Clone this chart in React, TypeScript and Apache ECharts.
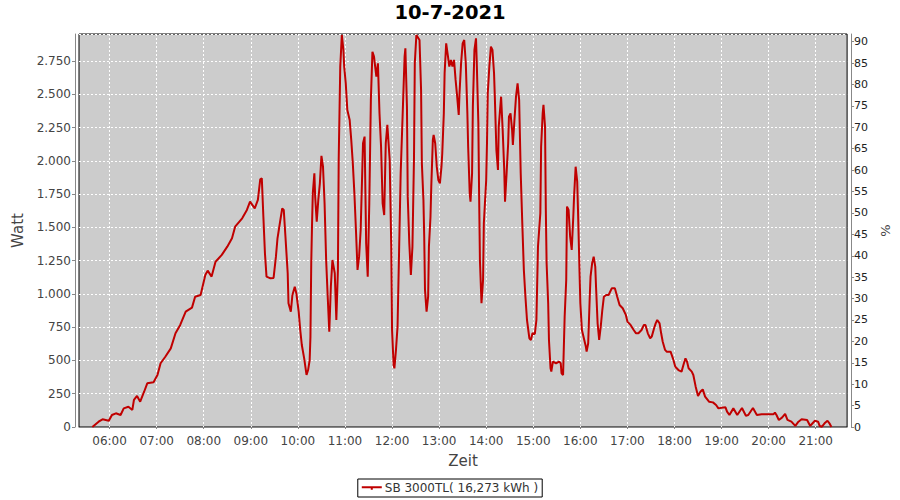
import React, { useEffect, useRef } from 'react';
import * as echarts from 'echarts';

const TITLE = '10-7-2021';
const SERIES_NAME = 'SB 3000TL( 16,273 kWh )';
const X_NAME = 'Zeit';
const Y_NAME = 'Watt';
const Y2_NAME = '%';

// minutes since midnight
const TIME_MIN = 321;
const TIME_MAX = 1300;
const HOUR_TICKS = [360, 420, 480, 540, 600, 660, 720, 780, 840, 900, 960, 1020, 1080, 1140, 1200, 1260];

const WATT_MAX = 2953;
const WATT_STEP = 250;
const PCT_MAX = 91.8;
const PCT_STEP = 5;

const times = [
  338, 346, 351, 359, 363, 368, 374, 378, 384, 389,
  391, 395, 399, 404, 408, 416, 421, 425, 431, 438,
  444, 450, 457, 465, 469, 476, 482, 485, 490, 495,
  503, 510, 516, 520, 529, 535, 539, 545, 549, 552,
  554, 556, 558, 560, 565, 569, 572, 574, 577, 580,
  582, 584, 587, 588, 591, 593, 596, 598, 601, 603,
  605, 608, 611, 613, 615, 616, 617, 618, 619, 621,
  622, 624, 626, 628, 630, 632, 634, 636, 638, 640,
  642, 644, 647, 649, 651, 652, 654, 656, 658, 659,
  661, 663, 666, 668, 670, 672, 674, 676, 678, 680,
  683, 685, 687, 689, 691, 693, 695, 697, 700, 702,
  704, 706, 708, 710, 712, 714, 717, 719, 720, 722,
  723, 725, 727, 729, 731, 734, 736, 737, 739, 740,
  742, 744, 746, 748, 749, 751, 755, 757, 758, 760,
  761, 762, 764, 766, 767, 769, 770, 771, 772, 773,
  775, 777, 779, 781, 783, 784, 786, 787, 789, 791,
  793, 795, 797, 799, 801, 803, 805, 806, 808, 810,
  812, 814, 816, 817, 819, 820, 822, 823, 825, 827,
  828, 830, 831, 832, 834, 836, 837, 840, 841, 842,
  844, 846, 848, 850, 851, 853, 855, 856, 859, 861,
  863, 864, 866, 868, 869, 871, 873, 874, 876, 878,
  880, 882, 884, 886, 888, 890, 892, 895, 897, 899,
  902, 904, 906, 909, 910, 912, 913, 915, 916, 917,
  919, 920, 922, 923, 925, 929, 933, 935, 936, 938,
  940, 942, 943, 945, 947, 949, 951, 952, 954, 956,
  957, 959, 960, 962, 965, 967, 968, 970, 972, 973,
  975, 977, 979, 980, 982, 984, 986, 988, 990, 993,
  996, 1000, 1004, 1007, 1010, 1014, 1018, 1020, 1024, 1028,
  1031, 1034, 1038, 1041, 1043, 1046, 1049, 1051, 1054, 1056,
  1058, 1061, 1063, 1065, 1068, 1070, 1075, 1078, 1081, 1085,
  1089, 1092, 1094, 1096, 1098, 1102, 1104, 1107, 1110, 1113,
  1116, 1119, 1124, 1129, 1133, 1136, 1140, 1145, 1147, 1150,
  1155, 1160, 1166, 1171, 1174, 1180, 1185, 1191, 1200, 1206,
  1208, 1210, 1213, 1217, 1221, 1224, 1229, 1234, 1238, 1242,
  1249, 1253, 1256, 1259, 1263, 1265, 1268, 1272, 1275, 1278,
  1280,
];

const watts = [
  0, 40, 58, 47, 90, 103, 90, 140, 152, 128,
  203, 233, 190, 265, 328, 336, 391, 479, 528, 591,
  704, 767, 867, 897, 979, 992, 1142, 1175, 1130, 1242,
  1293, 1355, 1418, 1505, 1568, 1631, 1693, 1643, 1706, 1861,
  1869, 1580, 1305, 1130, 1117, 1120, 1280, 1418, 1531, 1643,
  1631, 1443, 1155, 930, 867, 992, 1054, 1005, 867, 729,
  616, 516, 391, 428, 503, 679, 1230, 1518, 1756, 1906,
  1731, 1543, 1706, 1831, 2037, 1956, 1681, 1255, 979, 716,
  1054, 1255, 1155, 804, 1180, 2006, 2708, 2946, 2833, 2708,
  2583, 2382, 2307, 2157, 1981, 1756, 1480, 1180, 1280, 1480,
  2132, 2182, 1380, 1130, 1681, 2457, 2820, 2783, 2632, 2733,
  2357, 2106, 1681, 1593, 2132, 2270, 2006, 1355, 729, 466,
  441, 579, 754, 1330, 1906, 2432, 2783, 2846, 2407, 1731,
  1380, 1142, 1355, 2031, 2733, 2946, 2908, 2532, 1981, 1706,
  1430, 1030, 867, 979, 1355, 1580, 1806, 1981, 2157, 2194,
  2132, 1956, 1856, 1831, 1956, 2057, 2357, 2658, 2883, 2796,
  2708, 2758, 2708, 2758, 2608, 2482, 2345, 2508, 2733, 2883,
  2908, 2733, 2357, 2106, 1756, 1693, 1906, 2407, 2833, 2921,
  2733, 2282, 1731, 1255, 930, 1105, 1531, 1856, 2132, 2508,
  2708, 2858, 2833, 2658, 2482, 2081, 1931, 2257, 2482, 2232,
  1931, 1693, 1906, 2132, 2332, 2357, 2232, 2119, 2307, 2482,
  2583, 2457, 1906, 1531, 1180, 979, 804, 667, 654, 704,
  699, 804, 1355, 1606, 2106, 2357, 2420, 2257, 1631, 1230,
  930, 654, 441, 416, 491, 479, 491, 479, 404, 391,
  829, 1105, 1656, 1631, 1430, 1330, 1580, 1731, 1956, 1843,
  1631, 1155, 930, 729, 654, 604, 566, 629, 979, 1130,
  1230, 1280, 1205, 1054, 779, 654, 754, 879, 979, 992,
  992, 1042, 1042, 979, 917, 892, 842, 792, 767, 729,
  704, 704, 729, 767, 767, 704, 667, 679, 742, 779,
  804, 779, 704, 641, 579, 566, 566, 516, 453, 428,
  416, 479, 516, 491, 441, 416, 391, 303, 233, 265,
  283, 228, 190, 185, 165, 140, 145, 148, 115, 90,
  140, 90, 143, 85, 90, 143, 90, 95, 95, 95,
  108, 90, 53, 70, 98, 53, 40, 8, 40, 58,
  53, 8, 28, 47, 40, 8, 2, 32, 47, 23,
  0,
];

const FONT = '"DejaVu Sans", Verdana, sans-serif';
const LINE_COLOR = '#C00000';
const AXIS_COLOR = '#888888';
const LABEL_COLOR = '#444444';
const LEGEND_ICON = 'path://M0,4L20,4L20,6L0,6Z M9,6L11,6L11,7.5L9,7.5Z';

const pad2 = (n: number) => (n < 10 ? '0' + n : String(n));
const fmtTime = (m: number) => pad2(Math.floor(m / 60)) + ':' + pad2(Math.round(m % 60));
const fmtWatt = (v: number) => {
  if (Math.abs(v % WATT_STEP) > 1e-6) return '';
  if (v >= 1000) {
    const th = Math.floor(v / 1000);
    const rest = Math.round(v % 1000);
    return th + '.' + String(rest).padStart(3, '0');
  }
  return String(v);
};
const fmtPct = (v: number) => (Math.abs(v % PCT_STEP) > 1e-6 ? '' : String(v));

export default function App() {
  const ref = useRef<HTMLDivElement>(null);

  useEffect(() => {
    if (!ref.current) return;
    const chart = echarts.init(ref.current, null, { renderer: 'svg' });
    const data = times.map((t, i) => [t, watts[i]]);

    chart.setOption({
      animation: false,
      backgroundColor: '#ffffff',
      title: {
        text: TITLE,
        left: 'center',
        top: 2,
        padding: 0,
        textStyle: { fontFamily: FONT, fontWeight: 'bold', fontSize: 19.5, color: '#000' },
      },
      legend: {
        bottom: 3,
        left: 'center',
        borderColor: '#000',
        borderWidth: 1,
        padding: [3, 4],
        itemWidth: 20,
        itemHeight: 10,
        itemGap: 4,
        textStyle: { fontFamily: FONT, fontSize: 12, color: '#333', padding: [0, 0, 0, -2] },
        data: [{ name: SERIES_NAME, icon: LEGEND_ICON, itemStyle: { color: LINE_COLOR } }],
      },
      grid: {
        left: 79,
        right: 51,
        top: 34,
        bottom: 73,
        show: true,
        backgroundColor: '#CCCCCC',
        borderColor: '#000',
        borderWidth: 1,
      },
      xAxis: {
        type: 'value',
        min: TIME_MIN,
        max: TIME_MAX,
        offset: 4,
        name: X_NAME,
        nameLocation: 'middle',
        nameGap: 22,
        nameTextStyle: { fontFamily: FONT, fontSize: 15, color: LABEL_COLOR },
        axisLine: { show: true, lineStyle: { color: AXIS_COLOR, width: 1 } },
        axisTick: { show: true, length: 2, customValues: HOUR_TICKS, lineStyle: { color: AXIS_COLOR } },
        axisLabel: {
          customValues: HOUR_TICKS,
          formatter: fmtTime,
          fontFamily: FONT,
          fontSize: 12,
          color: LABEL_COLOR,
          margin: 4,
        },
        splitLine: { show: true, lineStyle: { color: '#ffffff', width: 1, type: [2, 2] } },
      },
      yAxis: [
        {
          type: 'value',
          min: 0,
          max: WATT_MAX,
          interval: WATT_STEP,
          position: 'left',
          offset: 4,
          name: Y_NAME,
          nameLocation: 'middle',
          nameGap: 48,
          nameTextStyle: { fontFamily: FONT, fontSize: 15, color: LABEL_COLOR },
          axisLine: { show: true, lineStyle: { color: AXIS_COLOR, width: 1 } },
          axisTick: { show: true, length: 3, lineStyle: { color: AXIS_COLOR } },
          axisLabel: {
            formatter: fmtWatt,
            showMaxLabel: false,
            fontFamily: FONT,
            fontSize: 12,
            color: LABEL_COLOR,
            margin: 4,
          },
          splitLine: { show: true, lineStyle: { color: '#ffffff', width: 1, type: [2, 2] } },
        },
        {
          type: 'value',
          min: 0,
          max: PCT_MAX,
          interval: PCT_STEP,
          position: 'right',
          offset: 4,
          name: Y2_NAME,
          nameLocation: 'middle',
          nameGap: 24,
          nameTextStyle: { fontFamily: FONT, fontSize: 13, color: LABEL_COLOR },
          axisLine: { show: true, lineStyle: { color: AXIS_COLOR, width: 1 } },
          axisTick: { show: true, length: 3, lineStyle: { color: AXIS_COLOR } },
          axisLabel: {
            formatter: fmtPct,
            showMaxLabel: false,
            fontFamily: FONT,
            fontSize: 11,
            color: '#222',
            margin: 3,
          },
          splitLine: { show: false },
        },
      ],
      series: [
        {
          type: 'line',
          name: SERIES_NAME,
          yAxisIndex: 0,
          data,
          symbol: 'none',
          showSymbol: false,
          lineStyle: { color: LINE_COLOR, width: 2 },
          itemStyle: { color: LINE_COLOR },
        },
      ],
    });

    return () => chart.dispose();
  }, []);

  return (
    <div
      ref={ref}
      style={{ position: 'fixed', left: 0, top: 0, width: 900, height: 500, background: '#fff' }}
    />
  );
}
